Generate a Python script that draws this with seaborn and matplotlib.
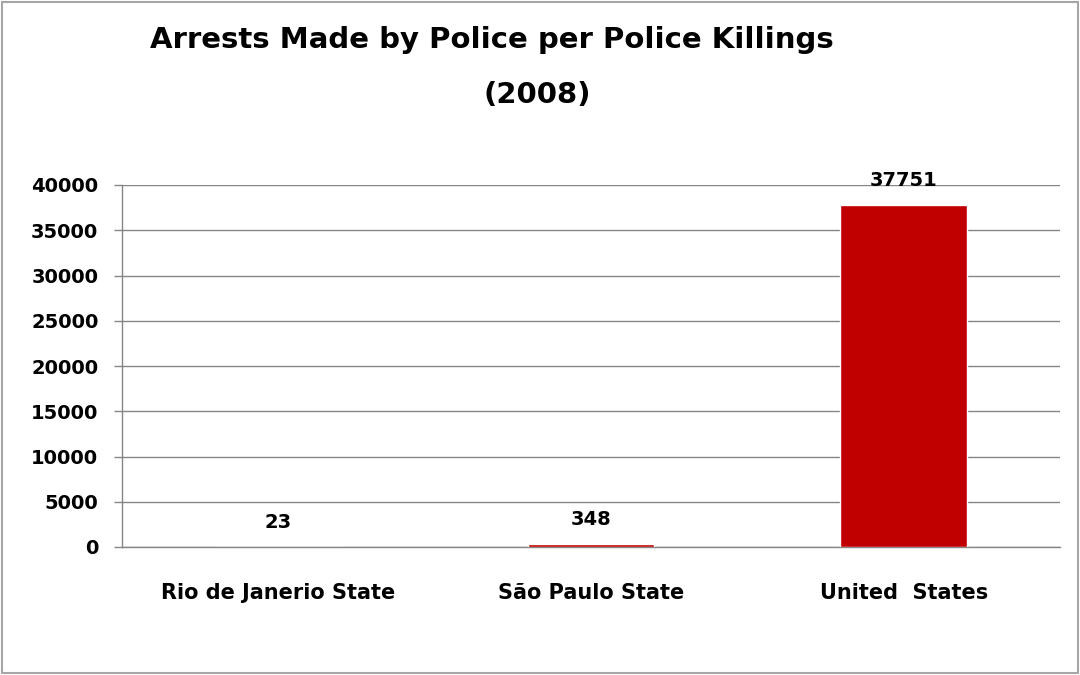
import matplotlib
matplotlib.use("Agg")
import matplotlib.pyplot as plt
import seaborn as sns
import pandas as pd
from matplotlib.patches import Rectangle

categories = ["Rio de Janerio State", "São Paulo State", "United  States"]
values = [23, 348, 37751]
yticks = [0, 5000, 10000, 15000, 20000, 25000, 30000, 35000, 40000]
title_line1 = "Arrests Made by Police per Police Killings"
title_line2 = "(2008)"

sns.set_theme(style="white")
plt.rcParams['font.family'] = ['DejaVu Sans']
plt.rcParams['text.color'] = 'black'
plt.rcParams['xtick.color'] = 'black'
plt.rcParams['ytick.color'] = 'black'

df = pd.DataFrame({"cat": categories, "val": values})

fig = plt.figure(figsize=(10.8, 6.75), dpi=100)
ax = fig.add_axes([122/1080, 1-547/675, (1060-122)/1080, (547-185)/675])

sns.barplot(data=df, x="cat", y="val", color="#C00000", width=0.406, ax=ax,
            saturation=1, zorder=3)

ax.set_ylim(0, 40000)
ax.set_xlim(-0.5, 2.5)
ax.set_yticks(yticks)
ax.set_yticklabels([str(v) for v in yticks], fontsize=14, fontweight="bold", color="black")
ax.set_xticks(range(len(categories)))
ax.set_xticklabels(categories, fontsize=15, fontweight="bold", color="black")
ax.set_xticks([0.5, 1.5], minor=True)
ax.tick_params(axis="x", which="major", length=0, pad=26)
ax.tick_params(axis="x", which="minor", length=6, color="#868686", width=1, direction="out")
ax.tick_params(axis="y", length=6, color="#868686", width=1, direction="out", pad=11, left=True)
ax.set_xlabel("")
ax.set_ylabel("")
ax.yaxis.grid(True, color="#868686", linewidth=1, zorder=0)
ax.set_axisbelow(True)
for s in ["top", "right"]:
    ax.spines[s].set_visible(False)
for s in ["left", "bottom"]:
    ax.spines[s].set_color("#868686")
    ax.spines[s].set_linewidth(1)

for i, v in enumerate(values):
    ax.annotate(str(v), (i, v), xytext=(0, 11), textcoords="offset points",
                ha="center", va="bottom", fontsize=14, fontweight="bold", color="black")

fig.text(492/1080, 1-40/675, title_line1, ha="center", va="center",
         fontsize=21, fontweight="bold", color="black")
fig.text(537/1080, 1-95/675, title_line2, ha="center", va="center",
         fontsize=21, fontweight="bold", color="black")

fig.patches.append(Rectangle((2/1080, 2/675), 1-4/1080, 1-4/675, transform=fig.transFigure,
                             fill=False, edgecolor="#A6A6A6", linewidth=1.5))

fig.savefig("out.png", dpi=100)
